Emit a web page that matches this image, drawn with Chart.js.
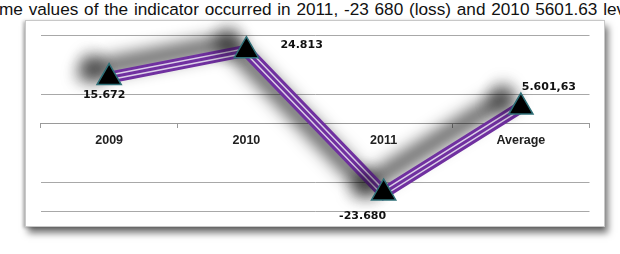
<!DOCTYPE html>
<html>
<head>
<meta charset="utf-8">
<script src="https://cdn.jsdelivr.net/npm/chart.js@4.4.1/dist/chart.umd.min.js"></script>
<style>
  body { margin: 0; width: 620px; height: 254px; background: #fff; overflow: hidden; position: relative; }
  #caption { position: absolute; left: -1px; top: 0; white-space: nowrap; font: 17.2px "Liberation Sans", Arial, sans-serif;
             word-spacing: 1px; color: #111; line-height: 19px; }
  #box { position: absolute; left: 25px; top: 20px; width: 580px; height: 207px; background: #fff;
         border: 1px solid #c8c8c8; box-sizing: border-box;
         box-shadow: 3px 6px 7px rgba(0,0,0,0.55), -2px 1px 3px rgba(0,0,0,0.25); }
  #wrap { position: absolute; left: 25px; top: 20px; width: 580px; height: 207px; }
</style>
</head>
<body>
<div id="caption">me values of the indicator occurred in 2011, -23 680 (loss) and 2010 5601.63 level</div>
<div id="box"></div>
<div id="wrap"><canvas id="chart"></canvas></div>
<script>
// data
const categories = ['2009', '2010', '2011', 'Average'];
const values = [15672, 24813, -23680, 5601.63];
const valueLabels = ['15.672', '24.813', '-23.680', '5.601,63'];
const gridValues = [30000, 10000, 0, -20000, -30000];

const purple = '#7030a0';
const stripe = '#dcd0e8';

// where each value label sits next to its marker
const labelOffsets = [
    { dx: -5, dy: 18, align: 'center' },
    { dx: 34, dy: -6, align: 'left' },
    { dx: -21, dy: 23, align: 'center' },
    { dx: 28, dy: -20, align: 'center' }
];

const shadowPlugin = {
    id: 'shadow',
    beforeDatasetDraw(chart, args) {
        const ds = chart.data.datasets[args.index];
        if (!ds.shadow) return;
        const ctx = chart.ctx;
        ctx.save();
        ctx.shadowColor = 'rgba(0,0,0,0.9)';
        ctx.shadowBlur = 18;
        ctx.shadowOffsetX = -18;
        ctx.shadowOffsetY = -8;
    },
    afterDatasetDraw(chart, args) {
        const ds = chart.data.datasets[args.index];
        if (!ds.shadow) return;
        chart.ctx.restore();
    }
};

const labelPlugin = {
    id: 'valueLabels',
    afterDatasetsDraw(chart) {
        const ctx = chart.ctx;
        const meta = chart.getDatasetMeta(3);
        ctx.save();
        ctx.font = 'bold 11px "DejaVu Sans", sans-serif';
        ctx.fillStyle = '#111';
        ctx.textBaseline = 'middle';
        meta.data.forEach((pt, i) => {
            const o = labelOffsets[i];
            ctx.textAlign = o.align;
            ctx.fillText(valueLabels[i], pt.x + o.dx, pt.y + o.dy);
        });
        ctx.restore();
    }
};

function lineSet(color, width, order, shadow) {
    return {
        data: values,
        borderColor: color,
        borderWidth: width,
        pointRadius: 0,
        tension: 0,
        borderJoinStyle: 'miter',
        borderCapStyle: 'round',
        clip: false,
        order: order,
        shadow: shadow
    };
}

const ctx = document.getElementById('chart').getContext('2d');
new Chart(ctx, {
    type: 'line',
    data: {
        labels: categories,
        datasets: [
            lineSet(purple, 12, 4, true),
            lineSet(stripe, 6, 3, false),
            lineSet(purple, 3, 2, false),
            {
                data: values,
                showLine: false,
                pointStyle: 'triangle',
                pointRadius: 14,
                pointHoverRadius: 14,
                pointBackgroundColor: '#000',
                pointBorderColor: '#2f7078',
                pointBorderWidth: 1.5,
                clip: false,
                order: 1,
                shadow: true
            }
        ]
    },
    options: {
        responsive: true,
        maintainAspectRatio: false,
        animation: false,
        layout: { padding: { left: 15, right: 15, top: 11, bottom: 13 } },
        plugins: { legend: { display: false }, tooltip: { enabled: false } },
        scales: {
            x: {
                position: { y: 0 },
                offset: true,
                grid: { offset: true, drawOnChartArea: false, drawTicks: true, tickLength: 4, color: '#9a9a9a' },
                border: { color: '#9a9a9a', width: 1 },
                ticks: {
                    padding: 6,
                    color: '#222',
                    font: { family: '"Liberation Sans", Arial, sans-serif', weight: 'bold', size: 12.5 }
                }
            },
            y: {
                min: -30000,
                max: 30000,
                afterBuildTicks: scale => { scale.ticks = gridValues.map(v => ({ value: v })); },
                afterFit: scale => { scale.width = 0; },
                ticks: { display: false },
                border: { display: false },
                grid: { color: '#a8a8a8', drawTicks: false }
            }
        }
    },
    plugins: [shadowPlugin, labelPlugin]
});
</script>
</body>
</html>
